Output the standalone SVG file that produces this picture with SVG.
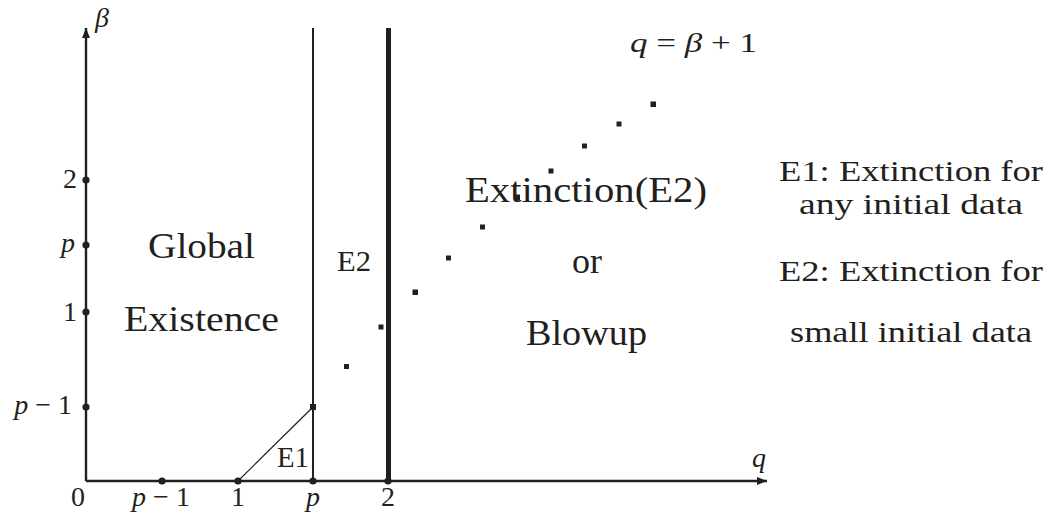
<svg xmlns="http://www.w3.org/2000/svg" width="1059" height="520" viewBox="0 0 1059 520">
<style>
.t{font-family:"Liberation Serif","Times New Roman","DejaVu Serif",serif;fill:#231f20}
.m{font-family:"Liberation Serif","Times New Roman","DejaVu Serif",serif;font-style:italic;fill:#231f20}
.ax{stroke:#231f20;stroke-width:2.4;fill:none}
.dot{fill:#231f20}
.sq{fill:#231f20}
</style>
<defs>
<marker id="arr" viewBox="0 0 10 8" refX="10" refY="4" markerWidth="10" markerHeight="8" markerUnits="userSpaceOnUse" orient="auto">
<path d="M0,0 L10,4 L0,8 Z" fill="#231f20"/>
</marker>
</defs>
<rect width="1059" height="520" fill="#fff"/>
<g id="connectors">
<line class="ax" x1="86" y1="481" x2="86" y2="28" marker-end="url(#arr)"/>
<line class="ax" x1="86" y1="481" x2="767" y2="481" marker-end="url(#arr)"/>
<line x1="313" y1="28" x2="313" y2="481" stroke="#231f20" stroke-width="2"/>
<line x1="388.5" y1="28" x2="388.5" y2="481" stroke="#231f20" stroke-width="5"/>
<line x1="238" y1="481" x2="313" y2="407" stroke="#231f20" stroke-width="1.2"/>
</g>
<g id="ticks">
<circle class="dot" cx="86" cy="180" r="3.6"/>
<circle class="dot" cx="86" cy="245" r="3.6"/>
<circle class="dot" cx="86" cy="312" r="3.6"/>
<circle class="dot" cx="86" cy="407" r="3.6"/>
<circle class="dot" cx="162" cy="481" r="3.6"/>
<circle class="dot" cx="238" cy="481" r="3.6"/>
<circle class="dot" cx="313" cy="481" r="3.6"/>
<circle class="dot" cx="388" cy="481" r="3.6"/>
<rect class="sq" x="310" y="404" width="6" height="6"/>
</g>
<g id="diagonal-dots">
<rect class="sq" x="344" y="364" width="5" height="5"/>
<rect class="sq" x="378.5" y="324.5" width="5" height="5"/>
<rect class="sq" x="412.5" y="289.5" width="5.5" height="5.5"/>
<rect class="sq" x="446" y="255.5" width="5" height="5"/>
<rect class="sq" x="480" y="224.5" width="5" height="5"/>
<rect class="sq" x="514.5" y="194.5" width="5.5" height="5.5"/>
<rect class="sq" x="548.5" y="168.5" width="5" height="5"/>
<rect class="sq" x="582" y="143.5" width="5" height="5"/>
<rect class="sq" x="616.5" y="121.5" width="5" height="5"/>
<rect class="sq" x="650.5" y="101.5" width="5.5" height="5.5"/>
</g>
<g id="axis-labels">
<text class="m" x="95" y="27" font-size="28">β</text>
<text class="m" x="752" y="467" font-size="28">q</text>
<text class="t" x="78" y="506" font-size="28" text-anchor="middle">0</text>
<text x="161" y="506" font-size="28" text-anchor="middle" class="t"><tspan class="m">p</tspan> − 1</text>
<text class="t" x="238" y="506" font-size="28" text-anchor="middle">1</text>
<text class="m" x="313" y="506" font-size="28" text-anchor="middle">p</text>
<text class="t" x="388" y="506" font-size="28" text-anchor="middle">2</text>
<text class="t" x="77" y="188" font-size="28" text-anchor="end">2</text>
<text class="m" x="75" y="252" font-size="28" text-anchor="end">p</text>
<text class="t" x="77" y="321" font-size="28" text-anchor="end">1</text>
<text x="72" y="414" font-size="28" text-anchor="end" class="t"><tspan class="m">p</tspan> − 1</text>
<text x="630" y="52" font-size="28" class="t" textLength="127" lengthAdjust="spacingAndGlyphs"><tspan class="m">q</tspan> = <tspan class="m">β</tspan> + 1</text>
</g>
<g id="region-global">
<text class="t" x="201.5" y="258" font-size="36" text-anchor="middle" textLength="107" lengthAdjust="spacingAndGlyphs">Global</text>
<text class="t" x="201.5" y="331" font-size="36" text-anchor="middle" textLength="155" lengthAdjust="spacingAndGlyphs">Existence</text>
</g>
<g id="region-E2">
<text class="t" x="354" y="271" font-size="29" text-anchor="middle" textLength="34" lengthAdjust="spacingAndGlyphs">E2</text>
</g>
<g id="region-E1">
<text class="t" x="293" y="467" font-size="29" text-anchor="middle" textLength="32" lengthAdjust="spacingAndGlyphs">E1</text>
</g>
<g id="region-extinction">
<text class="t" x="586" y="202" font-size="36" text-anchor="middle" textLength="242" lengthAdjust="spacingAndGlyphs">Extinction(E2)</text>
<text class="t" x="587" y="273" font-size="36" text-anchor="middle">or</text>
<text class="t" x="586.5" y="345" font-size="36" text-anchor="middle" textLength="121" lengthAdjust="spacingAndGlyphs">Blowup</text>
</g>
<g id="legend">
<text class="t" x="911" y="181" font-size="30" text-anchor="middle" textLength="264" lengthAdjust="spacingAndGlyphs">E1: Extinction for</text>
<text class="t" x="911" y="214" font-size="30" text-anchor="middle" textLength="224" lengthAdjust="spacingAndGlyphs">any initial data</text>
<text class="t" x="911" y="281" font-size="30" text-anchor="middle" textLength="264" lengthAdjust="spacingAndGlyphs">E2: Extinction for</text>
<text class="t" x="911" y="342" font-size="30" text-anchor="middle" textLength="242" lengthAdjust="spacingAndGlyphs">small initial data</text>
</g>
</svg>
